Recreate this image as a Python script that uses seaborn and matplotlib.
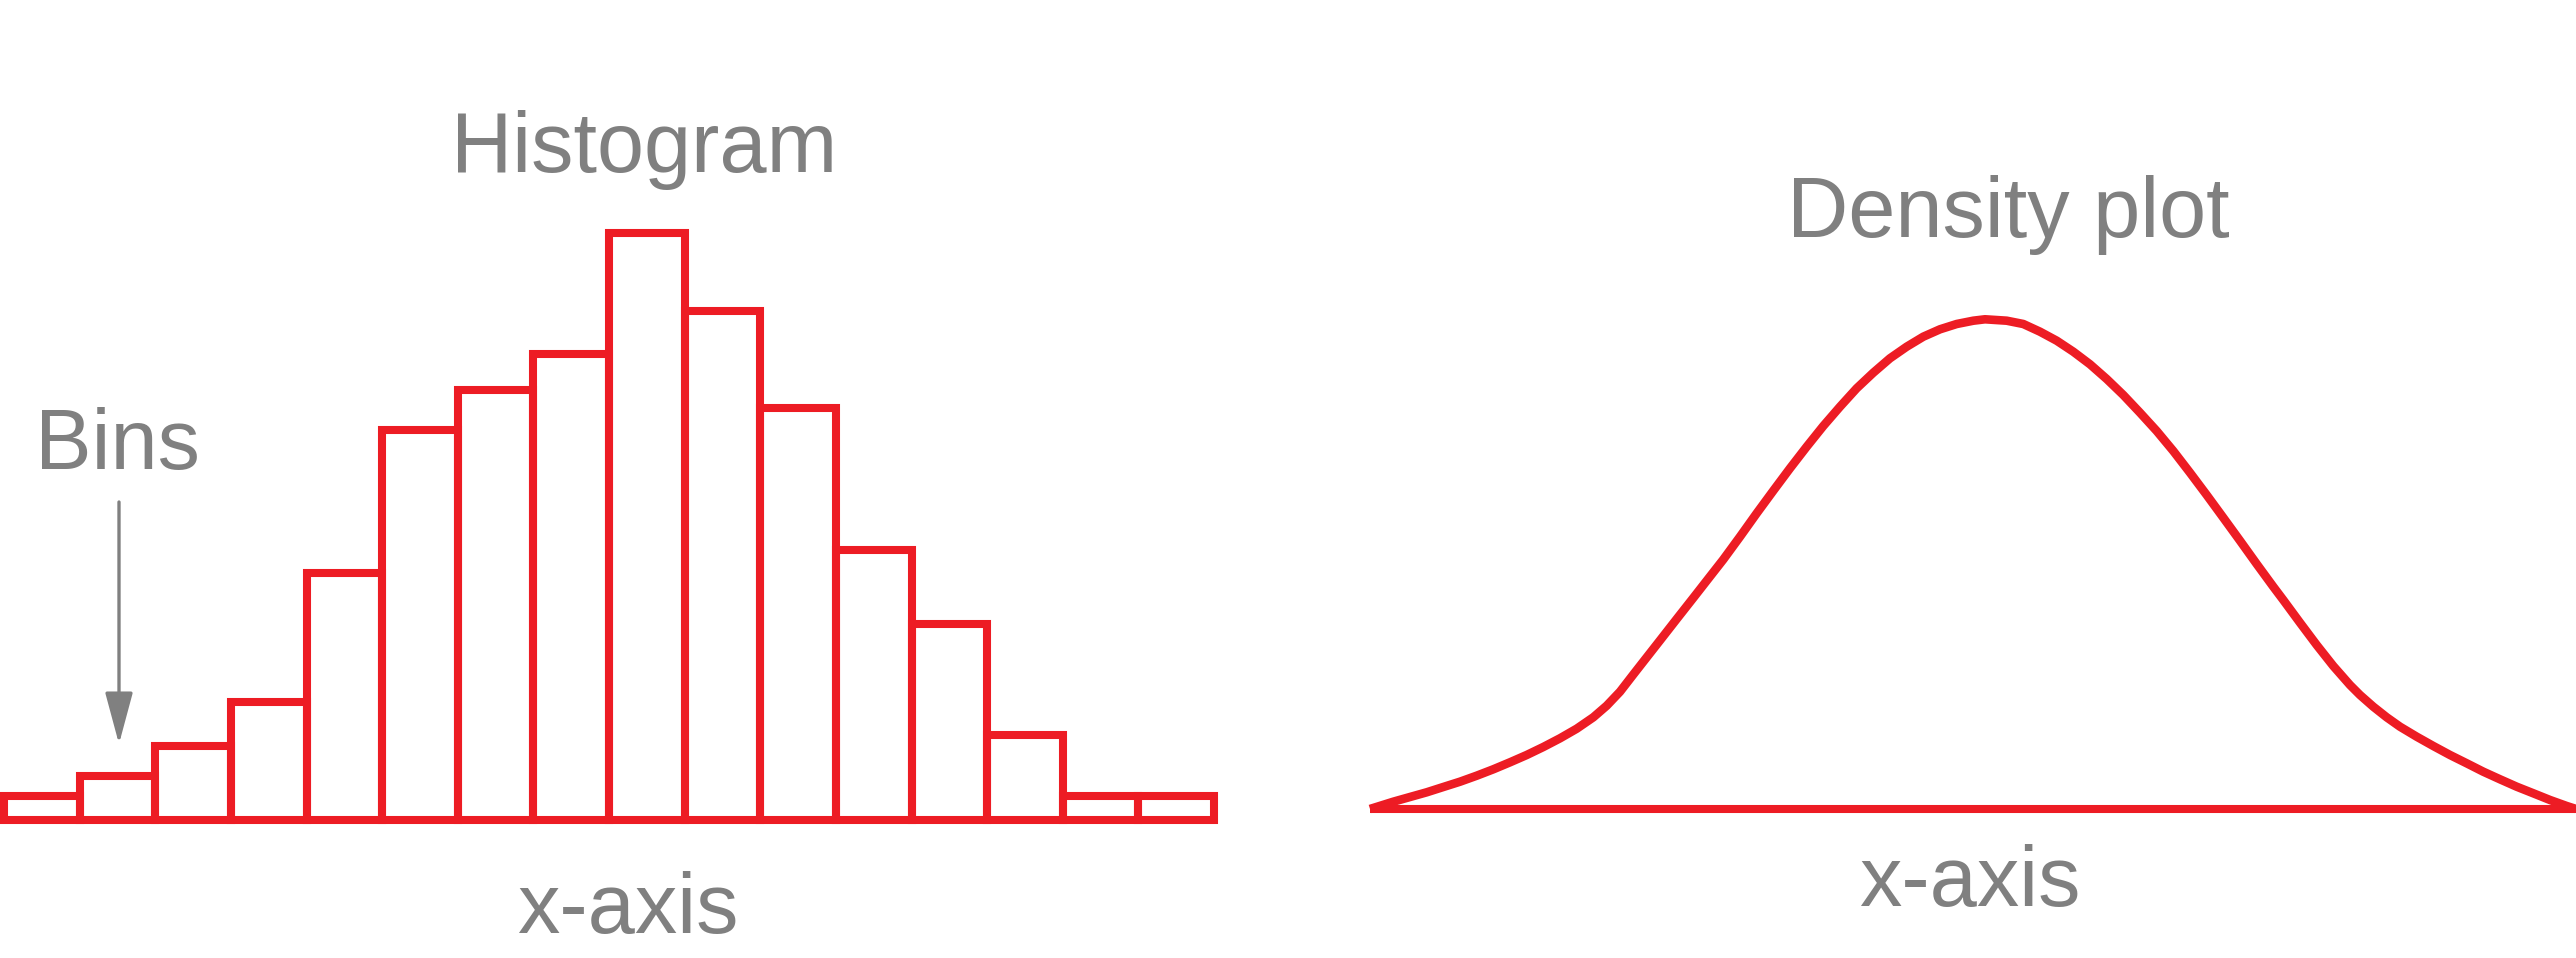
import numpy as np
import pandas as pd
import matplotlib
matplotlib.use("Agg")
import matplotlib.pyplot as plt
import seaborn as sns

# histogram: 16 equal bins, heights
bin_edges = list(range(17))
bin_counts = [2.0, 3.7, 6.2, 9.8, 20.6, 32.5, 35.8, 38.8, 48.9, 42.4, 34.3, 22.5, 16.3, 7.1, 2.0, 2.0]

# density curve, points
density_x = [0.000, 0.233, 0.400, 0.567, 0.733, 0.900, 1.067, 1.233, 1.400, 1.567,
             1.733, 1.900, 2.067, 2.233, 2.367, 2.500, 2.633, 2.733, 2.900, 3.067,
             3.240, 3.400, 3.533, 3.700, 3.867, 4.033, 4.200, 4.367, 4.533, 4.700,
             4.867, 5.033, 5.200, 5.367, 5.533, 5.700, 5.867, 6.033, 6.150, 6.367,
             6.533, 6.700, 6.867, 7.033, 7.200, 7.367, 7.533, 7.700, 7.867, 8.033,
             8.200, 8.367, 8.533, 8.700, 8.867, 9.033, 9.133, 9.300, 9.467, 9.633,
             9.800, 9.900, 10.033, 10.167, 10.300, 10.467, 10.633, 10.800, 10.967, 11.133,
             11.300, 11.467, 11.633, 11.800, 11.967, 12.060]
density_y = [0, 7.3, 12, 16.7, 22, 27.3, 33.3, 39.7, 46.7, 54,
             62, 70.7, 80.3, 91.7, 103.3, 117.3, 134.5, 147.3, 168.6, 190,
             212, 232.5, 249.5, 272.3, 295.7, 318.3, 340.7, 362.3, 383, 402.3,
             420.7, 436.3, 450.7, 462.3, 472.3, 479.7, 485, 488.3, 489.7, 488.3,
             485, 477.3, 468.3, 457.3, 444.7, 430, 414, 396.3, 378, 358,
             336.3, 314, 291.3, 268.3, 245, 222.3, 209, 186.3, 164, 143,
             124, 114, 102.3, 91.7, 82.3, 72.3, 63, 54, 45.7, 37.3,
             29.7, 22.3, 15.7, 9, 3, 0]

RED = "#ED1C24"
GREY = "#808080"
W, H = 2576, 958


def main():
    sns.set_theme(style="white")
    plt.rcParams["font.family"] = ["Liberation Sans", "DejaVu Sans"]

    fig = plt.figure(figsize=(W / 100, H / 100), dpi=100)
    fig.patch.set_facecolor("white")

    # histogram panel
    ax = fig.add_axes([4 / W, (H - 820) / H, 1210 / W, 600 / H])
    centers = [(bin_edges[i] + bin_edges[i + 1]) / 2 for i in range(len(bin_counts))]
    hist_df = pd.DataFrame({"x": centers, "count": bin_counts})
    sns.histplot(data=hist_df, x="x", weights="count", bins=bin_edges, ax=ax,
                 fill=False, color=RED, linewidth=5.8)
    for p in ax.patches:
        p.set_edgecolor(RED)
        p.set_linewidth(5.8)
        p.set_clip_on(False)
    ax.set_xlim(0, 16)
    ax.set_ylim(0, 50)
    ax.set_axis_off()

    # density panel
    ax2 = fig.add_axes([1370 / W, (H - 809) / H, 1206 / W, 600 / H])
    dens_df = pd.DataFrame({"x": density_x, "density": density_y})
    sns.lineplot(data=dens_df, x="x", y="density", ax=ax2, color=RED, linewidth=6.2,
                 sort=False)
    for ln in ax2.lines:
        ln.set_clip_on(False)
        ln.set_solid_joinstyle("round")
        ln.set_solid_capstyle("butt")
    ax2.axhline(0, color=RED, linewidth=5.8, clip_on=False, solid_capstyle="butt")
    ax2.set_xlim(0, 12.06)
    ax2.set_ylim(0, 600)
    ax2.set_axis_off()

    fs = 61
    fig.text(644 / W, 1 - 172 / H, "Histogram", ha="center", va="baseline",
             fontsize=fs, color=GREY)
    fig.text(117 / W, 1 - 469 / H, "Bins", ha="center", va="baseline",
             fontsize=fs, color=GREY)
    fig.text(2008 / W, 1 - 237 / H, "Density plot", ha="center", va="baseline",
             fontsize=fs, color=GREY)
    fig.text(628 / W, 1 - 933 / H, "x-axis", ha="center", va="baseline",
             fontsize=fs, color=GREY)
    fig.text(1970 / W, 1 - 906 / H, "x-axis", ha="center", va="baseline",
             fontsize=fs, color=GREY)

    # arrow pointing at a bin
    ax.annotate("", xy=(119, H - 744), xycoords="figure pixels",
                xytext=(119, H - 502), textcoords="figure pixels",
                arrowprops=dict(arrowstyle="-|>,head_length=32,head_width=8.6",
                                mutation_scale=1, color=GREY, lw=2.4,
                                shrinkA=0, shrinkB=0))

    plt.savefig("out.png", dpi=100, facecolor="white")


if __name__ == "__main__":
    main()
